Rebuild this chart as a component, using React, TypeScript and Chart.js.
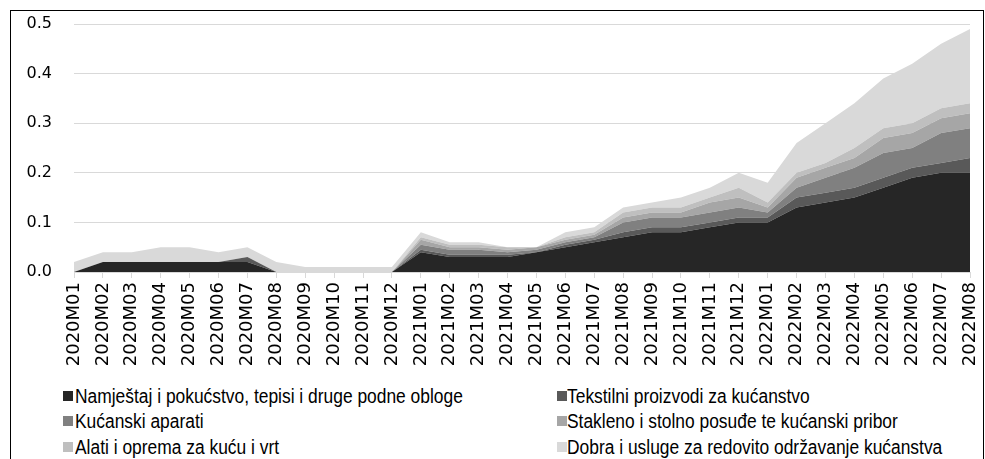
import React, { useEffect, useRef } from "react";
import { Chart, registerables } from "chart.js";

Chart.register(...registerables);

const categories = [
  "2020M01", "2020M02", "2020M03", "2020M04", "2020M05", "2020M06", "2020M07", "2020M08",
  "2020M09", "2020M10", "2020M11", "2020M12",
  "2021M01", "2021M02", "2021M03", "2021M04", "2021M05", "2021M06", "2021M07", "2021M08",
  "2021M09", "2021M10", "2021M11", "2021M12",
  "2022M01", "2022M02", "2022M03", "2022M04", "2022M05", "2022M06", "2022M07", "2022M08",
];

const namjestaj = [
  0, 0.02, 0.02, 0.02, 0.02, 0.02, 0.02, 0, 0, 0, 0, 0,
  0.04, 0.03, 0.03, 0.03, 0.04, 0.05, 0.06, 0.07, 0.08, 0.08, 0.09, 0.10,
  0.10, 0.13, 0.14, 0.15, 0.17, 0.19, 0.20, 0.20,
];
const tekstilni = [
  0, 0, 0, 0, 0, 0, 0.01, 0, 0, 0, 0, 0,
  0.005, 0.005, 0.005, 0.005, 0, 0.005, 0.005, 0.01, 0.01, 0.01, 0.01, 0.01,
  0.01, 0.02, 0.02, 0.02, 0.02, 0.02, 0.02, 0.03,
];
const aparati = [
  0, 0, 0, 0, 0, 0, 0, 0, 0, 0, 0, 0,
  0.01, 0.01, 0.01, 0.005, 0.005, 0.005, 0.005, 0.02, 0.02, 0.02, 0.02, 0.02,
  0.01, 0.02, 0.03, 0.04, 0.05, 0.04, 0.06, 0.06,
];
const stakleno = [
  0, 0, 0, 0, 0, 0, 0, 0, 0, 0, 0, 0,
  0.01, 0.005, 0.005, 0.005, 0.005, 0.005, 0.005, 0.01, 0.01, 0.01, 0.02, 0.02,
  0.01, 0.02, 0.02, 0.02, 0.03, 0.03, 0.03, 0.03,
];
const alati = [
  0, 0, 0, 0, 0, 0, 0, 0, 0, 0, 0, 0,
  0.005, 0.005, 0.005, 0.005, 0, 0.005, 0.005, 0.01, 0.01, 0.01, 0.01, 0.02,
  0.01, 0.01, 0.01, 0.02, 0.02, 0.02, 0.02, 0.02,
];
const dobra = [
  0.02, 0.02, 0.02, 0.03, 0.03, 0.02, 0.02, 0.02, 0.01, 0.01, 0.01, 0.01,
  0.01, 0.005, 0.005, 0, 0, 0.01, 0.01, 0.01, 0.01, 0.02, 0.02, 0.03,
  0.04, 0.06, 0.08, 0.09, 0.10, 0.12, 0.13, 0.15,
];

const seriesLabels = [
  "Namještaj i pokućstvo, tepisi i druge podne obloge",
  "Tekstilni proizvodi za kućanstvo",
  "Kućanski aparati",
  "Stakleno i stolno posuđe te kućanski pribor",
  "Alati i oprema za kuću i vrt",
  "Dobra i usluge za redovito održavanje kućanstva",
];
const seriesData = [namjestaj, tekstilni, aparati, stakleno, alati, dobra];
const seriesColors = ["#262626", "#595959", "#808080", "#a6a6a6", "#bfbfbf", "#d9d9d9"];

const yTicks = [0, 0.1, 0.2, 0.3, 0.4, 0.5];

const CANVAS_W = 972;
const CANVAS_H = 370;

export default function App() {
  const canvasRef = useRef<HTMLCanvasElement | null>(null);

  useEffect(() => {
    const canvas = canvasRef.current;
    if (!canvas) return;
    const chart = new Chart(canvas, {
      type: "line",
      data: {
        labels: categories,
        datasets: seriesData.map((d, i) => ({
          label: seriesLabels[i],
          data: d,
          backgroundColor: seriesColors[i],
          borderColor: seriesColors[i],
          borderWidth: 0,
          pointRadius: 0,
          tension: 0,
          fill: i === 0 ? "origin" : "-1",
        })),
      },
      options: {
        responsive: false,
        animation: false,
        devicePixelRatio: 1,
        layout: { padding: { left: 0, right: 13, top: 13, bottom: 0 } },
        plugins: {
          legend: { display: false },
          tooltip: { enabled: false },
        },
        scales: {
          x: {
            type: "category",
            offset: false,
            grid: {
              display: true,
              drawOnChartArea: false,
              drawTicks: true,
              tickLength: 6,
              color: "#d9d9d9",
              lineWidth: 1,
            },
            border: { display: true, color: "#d9d9d9" },
            ticks: {
              autoSkip: false,
              minRotation: 90,
              maxRotation: 90,
              padding: 4,
              color: "#000",
              font: { family: "'DejaVu Sans'", size: 18 },
            },
            afterFit: (scale: any) => {
              scale.height = 109;
              scale.paddingLeft = 0;
              scale.paddingRight = 0;
            },
          },
          y: {
            stacked: true,
            min: 0,
            max: 0.5,
            afterBuildTicks: (scale: any) => {
              scale.ticks = yTicks.map((v) => ({ value: v }));
            },
            grid: {
              color: "#d9d9d9",
              lineWidth: 1,
              drawTicks: false,
            },
            border: { display: false },
            ticks: {
              padding: 22,
              color: "#000",
              font: { family: "'DejaVu Sans'", size: 16 },
              callback: (v: any) => Number(v).toFixed(1),
            },
            afterFit: (scale: any) => {
              scale.width = 63;
              scale.paddingTop = 0;
              scale.paddingBottom = 0;
            },
          },
        },
      },
    });
    return () => chart.destroy();
  }, []);

  const legendRows = [0, 1, 2];
  const rowY = [385, 410, 436];
  const colSquareX = [52, 546];
  const colTextX = [64, 556];

  return (
    <div
      style={{
        position: "absolute",
        left: 10,
        top: 10,
        width: 972,
        height: 449,
        borderTop: "1px solid #000",
        borderLeft: "1px solid #000",
        borderRight: "1px solid #000",
        background: "#fff",
        overflow: "hidden",
      }}
    >
      <canvas
        ref={canvasRef}
        width={CANVAS_W}
        height={CANVAS_H}
        style={{ position: "absolute", left: 0, top: 0, width: CANVAS_W, height: CANVAS_H }}
      />
      {legendRows.map((r) =>
        [0, 1].map((c) => {
          const idx = r * 2 + c;
          return (
            <div
              key={idx}
              style={{
                position: "absolute",
                left: colSquareX[c],
                top: rowY[r] - 12,
                height: 24,
                display: "flex",
                alignItems: "center",
                whiteSpace: "nowrap",
              }}
            >
              <span
                style={{
                  display: "inline-block",
                  width: 10,
                  height: 10,
                  background: seriesColors[idx],
                  marginRight: colTextX[c] - colSquareX[c] - 10,
                }}
              />
              <span
                style={{
                  display: "inline-block",
                  fontFamily: "'Liberation Sans', Arial, sans-serif",
                  fontSize: 20,
                  color: "#000",
                  transform: "scaleX(0.87)",
                  transformOrigin: "left center",
                }}
              >
                {seriesLabels[idx]}
              </span>
            </div>
          );
        })
      )}
    </div>
  );
}
